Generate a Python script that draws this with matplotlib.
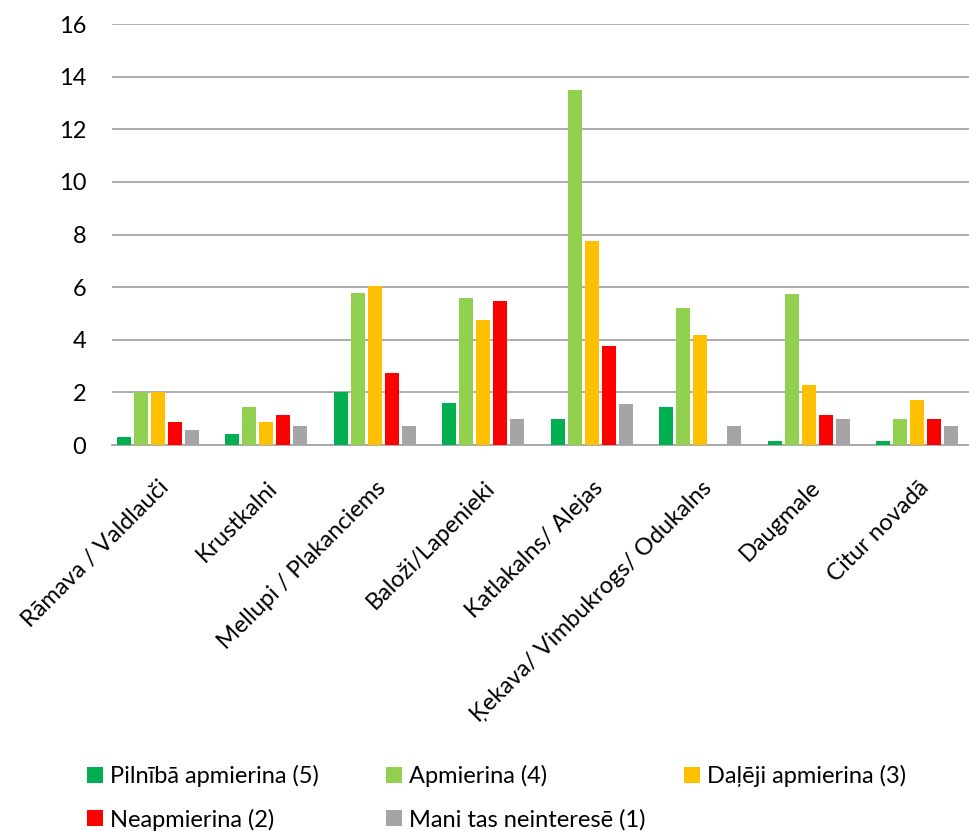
import matplotlib.pyplot as plt
from matplotlib.patches import Patch
from matplotlib.transforms import ScaledTranslation
import numpy as np

plt.rcParams['font.family'] = ['Lato', 'DejaVu Sans']

categories = ["Rāmava / Valdlauči", "Krustkalni", "Mellupi / Plakanciems",
              "Baloži/Lapenieki", "Katlakalns/ Alejas",
              "Ķekava/ Vimbukrogs/ Odukalns", "Daugmale", "Citur novadā"]

series_names = ["Pilnībā apmierina (5)", "Apmierina (4)", "Daļēji apmierina (3)",
                "Neapmierina (2)", "Mani tas neinteresē (1)"]
colors = ["#00b050", "#92d050", "#ffc000", "#ff0000", "#a5a5a5"]

pilniba = [0.29, 0.43, 2.0, 1.59, 1.0, 1.43, 0.14, 0.14]
apmierina = [2.0, 1.43, 5.76, 5.59, 13.5, 5.2, 5.75, 1.0]
dalji = [2.0, 0.86, 6.03, 4.75, 7.76, 4.17, 2.29, 1.71]
neapmierina = [0.86, 1.14, 2.72, 5.47, 3.76, 0.0, 1.14, 1.0]
neinterese = [0.57, 0.71, 0.71, 1.0, 1.57, 0.71, 1.0, 0.71]

data = [pilniba, apmierina, dalji, neapmierina, neinterese]

W, H = 969, 831
fig = plt.figure(figsize=(W / 100, H / 100), dpi=100)
# plot area runs a little past the right edge, like the original picture
ax = fig.add_axes([112 / W, (H - 445) / H, 868 / W, 421 / H])

x = np.arange(len(categories))
step = 0.1567
width = 0.125
bars = []
for i, (vals, col) in enumerate(zip(data, colors)):
    b = ax.bar(x + (i - 2.5) * step, vals, width, color=col, zorder=3)
    bars.append(b)

ax.set_xlim(-0.5, len(categories) - 0.5)
ax.set_ylim(0, 16)
ax.set_yticks(range(0, 17, 2))
ax.grid(axis='y', color='#a6a6a6', linewidth=1.3, zorder=0)
for s in ['top', 'right', 'left']:
    ax.spines[s].set_visible(False)
ax.spines['bottom'].set_color('#a6a6a6')
ax.spines['bottom'].set_linewidth(1.3)
ax.tick_params(axis='both', length=0, labelsize=17)
ax.tick_params(axis='y', pad=18.5)
ax.set_xticks(x)
ax.set_xticklabels(categories, rotation=45, ha='right', va='top', rotation_mode='anchor')
ax.tick_params(axis='x', pad=18)
shift = ScaledTranslation(-0.08, -0.07, fig.dpi_scale_trans)
for lbl in ax.get_xticklabels():
    lbl.set_transform(lbl.get_transform() + shift)

# legend entries laid out in a 3-column grid (row-major, like Excel)
legend_pos = [(87, 776), (386, 776), (684, 776), (87, 819.5), (386, 819.5)]
for i, (px, py) in enumerate(legend_pos):
    h = Patch(facecolor=colors[i], edgecolor='none')
    fig.legend([h], [series_names[i]], loc='center left',
               bbox_to_anchor=(px / W, 1 - py / H), frameon=False,
               fontsize=17, handlelength=0.68, handleheight=0.68,
               handletextpad=0.3, borderpad=0, borderaxespad=0)

fig.savefig('out.png', dpi=100)
